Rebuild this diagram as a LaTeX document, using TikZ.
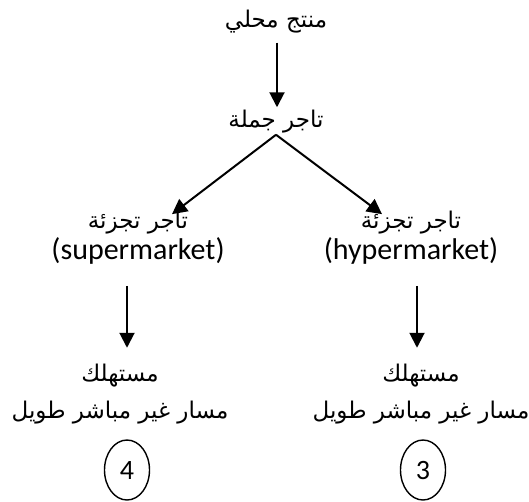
\documentclass[tikz,border=0pt]{standalone}
\usepackage{fontspec}
\setmainfont{Carlito}
\newfontfamily\arabicfont[Script=Arabic]{DejaVu Sans}
\TeXXeTstate=1
\usepackage{tikz}
\usetikzlibrary{arrows.meta, shapes.geometric}

\newcommand{\ar}[1]{{\arabicfont\beginR #1\endR}}
\newcommand{\lat}[1]{{\fontsize{30}{31}\selectfont #1}}

\begin{document}
\begin{tikzpicture}[x=1pt,y=-1pt,
    txt/.style={font=\fontsize{23}{31}\selectfont, align=center, inner sep=1pt},
    arr/.style={line width=2pt, -{Triangle[length=15pt, width=15pt]}},
    ring/.style={draw, ellipse, line width=1.4pt, minimum width=45pt, minimum height=60pt, inner sep=0pt, font=\fontsize{28}{30}\selectfont}]

    \useasboundingbox (0,0) rectangle (529,501);

    % top
    \node[txt] (prod) at (276,22) {\ar{منتج محلي}};
    \node[txt] (whole) at (276,122) {\ar{تاجر جملة}};
    \draw[arr] ([xshift=1pt,yshift=-8pt]prod.south) -- ([xshift=1pt,yshift=2pt]whole.north);

    % retailers
    \node[txt] (retL) at (138,238) {\ar{تاجر تجزئة}\\\lat{(supermarket)}};
    \node[txt] (retR) at (411,238) {\ar{تاجر تجزئة}\\\lat{(hypermarket)}};
    \draw[arr] (whole.south) -- ([xshift=34pt,yshift=-4pt]retL.north);
    \draw[arr] (whole.south) -- ([xshift=-29pt,yshift=-4pt]retR.north);

    % consumers
    \node[txt] (consL) at (120,394) {\ar{مستهلك}\\[6pt]\ar{مسار غير مباشر طويل}};
    \node[txt] (consR) at (421,394) {\ar{مستهلك}\\[6pt]\ar{مسار غير مباشر طويل}};
    \draw[arr] ([xshift=-11pt,yshift=-20pt]retL.south) -- ([xshift=7pt,yshift=15pt]consL.north);
    \draw[arr] ([xshift=6pt,yshift=-20pt]retR.south) -- ([xshift=-4pt,yshift=15pt]consR.north);

    % numbers
    \node[ring] (n4) at (127,470) {4};
    \node[ring] (n3) at (423,470) {3};

\end{tikzpicture}
\end{document}
